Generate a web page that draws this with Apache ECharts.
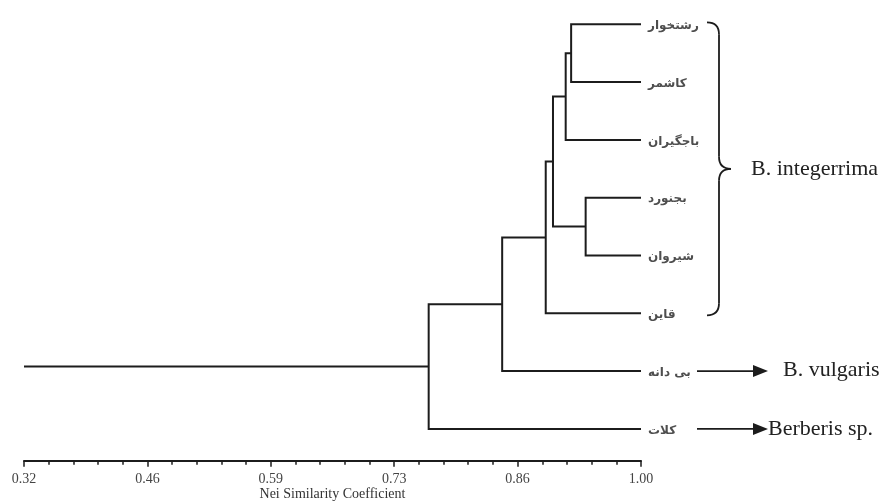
<!DOCTYPE html>
<html>
<head>
<meta charset="utf-8">
<script src="https://cdn.jsdelivr.net/npm/echarts@6/dist/echarts.min.js"></script>
<style>
html,body{margin:0;padding:0;background:#ffffff;}
#c{width:883px;height:504px;}
</style>
</head>
<body>
<div id="c"></div>
<script>
// ---- data ----
const leaves = ['رشتخوار', 'کاشمر', 'باجگیران', 'بجنورد', 'شیروان', 'قاین', 'بی دانه', 'کلات'];
const leafSimilarity = 1.0;
// merges: cluster M1..M7 joins mergeA[k] and mergeB[k] at similarity mergeSim[k]
const mergeA = ['رشتخوار', 'M1', 'بجنورد', 'M2', 'M4', 'M5', 'M6'];
const mergeB = ['کاشمر', 'باجگیران', 'شیروان', 'M3', 'قاین', 'بی دانه', 'کلات'];
const mergeSim = [0.923, 0.917, 0.939, 0.903, 0.895, 0.847, 0.766];
const axisMin = 0.32, axisMax = 1.0;
const tickValues = [0.32, 0.456, 0.592, 0.728, 0.864, 1.0];
const tickLabels = ['0.32', '0.46', '0.59', '0.73', '0.86', '1.00'];
const axisName = 'Nei Similarity Coefficient';
const groupNames = ['B. integerrima', 'B. vulgaris', 'Berberis sp.'];

// ---- build tree geometry (data units) ----
const pos = {};
leaves.forEach((n, i) => { pos[n] = { x: leafSimilarity, y: i }; });
const links = [];
mergeSim.forEach((s, k) => {
  const a = pos[mergeA[k]], b = pos[mergeB[k]];
  pos['M' + (k + 1)] = { x: s, y: (a.y + b.y) / 2 };
  links.push([s, a.y, b.y, a.x, b.x]);
});
const root = pos['M' + mergeSim.length];

// minor ticks: 5 subdivisions between major ticks
const minorTicks = [];
for (let i = 0; i < tickValues.length - 1; i++) {
  const step = (tickValues[i + 1] - tickValues[i]) / 5;
  for (let j = 1; j < 5; j++) minorTicks.push(tickValues[i] + j * step);
}

const ink = '#1c1c1c';
const gridBox = { left: 24, right: 242, top: 9.85, bottom: 43.3, containLabel: false, outerBoundsMode: 'none' };
const chart = echarts.init(document.getElementById('c'));
chart.setOption({
  animation: false,
  backgroundColor: '#ffffff',
  grid: [Object.assign({}, gridBox), Object.assign({}, gridBox)],
  xAxis: [{
    type: 'value', gridIndex: 0, min: axisMin, max: axisMax, position: 'bottom',
    name: axisName, nameLocation: 'middle', nameGap: 27, nameMoveOverlap: false,
    nameTextStyle: { fontFamily: 'Liberation Serif', fontSize: 14, color: '#333' },
    axisLine: { show: true, onZero: false, lineStyle: { color: ink, width: 2 } },
    axisTick: { show: true, customValues: tickValues, length: 6, lineStyle: { color: ink, width: 1.5 } },
    axisLabel: { show: true, customValues: tickValues, margin: 12,
      formatter: v => tickLabels[tickValues.findIndex(t => Math.abs(t - v) < 1e-6)] || '',
      fontFamily: 'Liberation Serif', fontSize: 14, color: '#444' },
    splitLine: { show: false }
  }, {
    type: 'value', gridIndex: 1, min: axisMin, max: axisMax, position: 'bottom',
    axisLine: { show: false, onZero: false },
    axisTick: { show: true, customValues: minorTicks, length: 4, lineStyle: { color: ink, width: 1.5 } },
    axisLabel: { show: false },
    splitLine: { show: false }
  }],
  yAxis: [
    { type: 'value', gridIndex: 0, inverse: true, min: -0.25, max: 7.55, show: false },
    { type: 'value', gridIndex: 1, inverse: true, min: -0.25, max: 7.55, show: false }
  ],
  series: [{
    type: 'custom',
    coordinateSystem: 'cartesian2d',
    clip: false,
    encode: { x: [0, 3, 4], y: [1, 2] },
    data: links,
    renderItem: function (params, api) {
      const s = api.value(0), ya = api.value(1), yb = api.value(2), xa = api.value(3), xb = api.value(4);
      const p1 = api.coord([xa, ya]), p2 = api.coord([s, ya]), p3 = api.coord([s, yb]), p4 = api.coord([xb, yb]);
      return {
        type: 'polyline',
        shape: { points: [p1, p2, p3, p4] },
        style: { stroke: ink, lineWidth: 2, fill: null, lineJoin: 'miter' }
      };
    },
    silent: true
  }, {
    type: 'line',
    data: [[axisMin, root.y], [root.x, root.y]],
    symbol: 'none',
    lineStyle: { color: ink, width: 2 },
    silent: true
  }, {
    type: 'scatter',
    symbolSize: 0,
    data: leaves.map((n, i) => ({ name: n, value: [leafSimilarity, i] })),
    label: { show: true, position: 'right', distance: 7, offset: [0, 1.5], formatter: '{b}',
      fontFamily: 'DejaVu Sans', fontSize: 12, fontWeight: 'bold', color: '#222' },
    silent: true
  }]
});

// ---- annotations (brace, arrows, group names) placed from the axis scale ----
const px = (x, y) => chart.convertToPixel({ xAxisIndex: 0, yAxisIndex: 0 }, [x, y]);
const xEnd = px(leafSimilarity, 0)[0];
const yTop = px(leafSimilarity, 0)[1] - 2;
const yBot = px(leafSimilarity, 5)[1] + 2;
const yMid = (yTop + yBot) / 2;
const yVul = px(leafSimilarity, 6)[1];
const yKal = px(leafSimilarity, 7)[1];
const bx = xEnd + 66, bw = 12, r = 12;
const braceStyle = { stroke: ink, lineWidth: 1.8, fill: null };
const brace = [
  { type: 'bezierCurve', shape: { x1: bx, y1: yTop, cpx1: bx + bw, cpy1: yTop, x2: bx + bw, y2: yTop + r }, style: braceStyle },
  { type: 'line', shape: { x1: bx + bw, y1: yTop + r, x2: bx + bw, y2: yMid - r }, style: braceStyle },
  { type: 'bezierCurve', shape: { x1: bx + bw, y1: yMid - r, cpx1: bx + bw, cpy1: yMid, x2: bx + 2 * bw, y2: yMid }, style: braceStyle },
  { type: 'bezierCurve', shape: { x1: bx + 2 * bw, y1: yMid, cpx1: bx + bw, cpy1: yMid, x2: bx + bw, y2: yMid + r }, style: braceStyle },
  { type: 'line', shape: { x1: bx + bw, y1: yMid + r, x2: bx + bw, y2: yBot - r }, style: braceStyle },
  { type: 'bezierCurve', shape: { x1: bx + bw, y1: yBot - r, cpx1: bx + bw, cpy1: yBot, x2: bx, y2: yBot }, style: braceStyle }
];
function arrow(y) {
  const x0 = xEnd + 56, x1 = xEnd + 112, x2 = xEnd + 127;
  return [
    { type: 'line', shape: { x1: x0, y1: y, x2: x1 + 1, y2: y }, style: { stroke: ink, lineWidth: 1.6 } },
    { type: 'polygon', shape: { points: [[x1, y - 6], [x2, y], [x1, y + 6]] }, style: { fill: ink } }
  ];
}
const serif = { fontFamily: 'Liberation Serif', fontSize: 22, fill: '#222', verticalAlign: 'middle', align: 'left' };
chart.setOption({
  graphic: [
    ...brace,
    ...arrow(yVul), ...arrow(yKal),
    { type: 'text', x: bx + 2 * bw + 20, y: yMid, style: Object.assign({ text: groupNames[0] }, serif) },
    { type: 'text', x: xEnd + 142, y: yVul - 1, style: Object.assign({ text: groupNames[1] }, serif) },
    { type: 'text', x: xEnd + 127, y: yKal, style: Object.assign({ text: groupNames[2] }, serif) }
  ]
});
</script>
</body>
</html>
